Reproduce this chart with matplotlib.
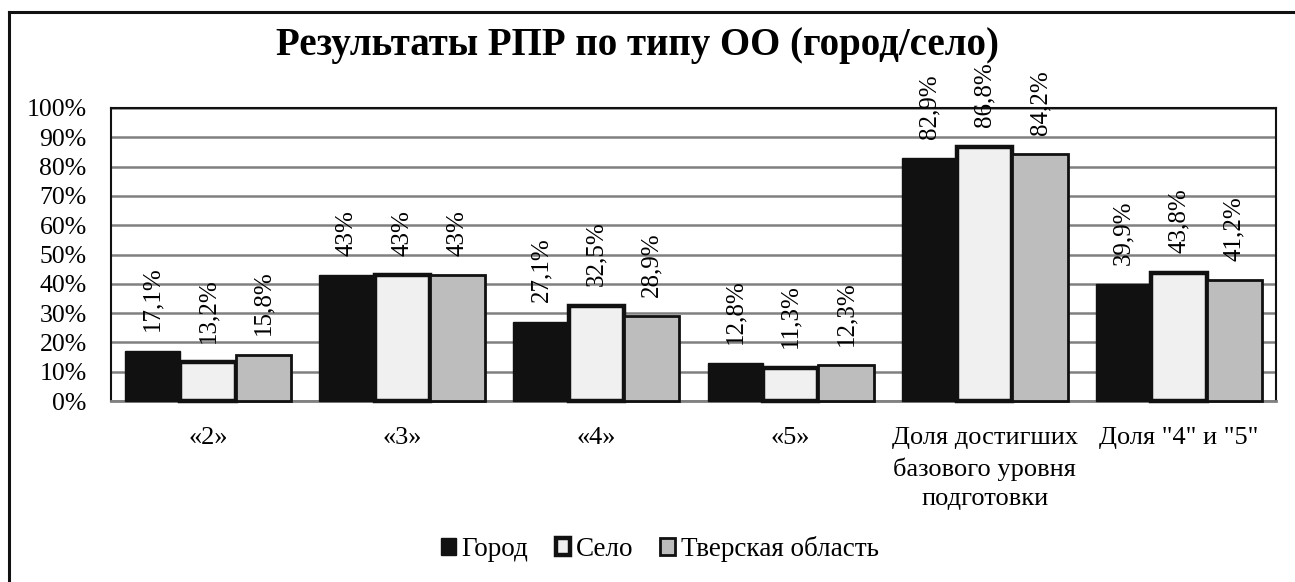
import matplotlib
matplotlib.use("Agg")
import matplotlib.pyplot as plt
from matplotlib.lines import Line2D
import numpy as np

plt.rcParams['font.family'] = ['Liberation Serif', 'DejaVu Serif']

categories = ['«2»', '«3»', '«4»', '«5»', 'Доля достигших\nбазового уровня\nподготовки', 'Доля "4" и "5"']
series_names = ['Город', 'Село', 'Тверская область']
gorod = [17.1, 43, 27.1, 12.8, 82.9, 39.9]
selo = [13.2, 43, 32.5, 11.3, 86.8, 43.8]
tver = [15.8, 43, 28.9, 12.3, 84.2, 41.2]
labels_gorod = ['17,1%', '43%', '27,1%', '12,8%', '82,9%', '39,9%']
labels_selo = ['13,2%', '43%', '32,5%', '11,3%', '86,8%', '43,8%']
labels_tver = ['15,8%', '43%', '28,9%', '12,3%', '84,2%', '41,2%']
yticks = [0, 10, 20, 30, 40, 50, 60, 70, 80, 90, 100]

W, H = 1295, 582
fig = plt.figure(figsize=(W/100, H/100), dpi=100)
ax = fig.add_axes([111/W, 1-401/H, (1276-111)/W, (401-108)/H])

x = np.arange(len(categories))
bw = 0.285
styles = [
    dict(color='#111111', edgecolor='#111111', linewidth=1.0),
    dict(color='#f0f0f0', edgecolor='#111111', linewidth=3.2),
    dict(color='#bdbdbd', edgecolor='#111111', linewidth=2.0),
]
data = [gorod, selo, tver]
labs = [labels_gorod, labels_selo, labels_tver]
handles = []
for i, (vals, st, lb) in enumerate(zip(data, styles, labs)):
    pos = x + (i-1)*bw
    b = ax.bar(pos, vals, bw, label=series_names[i], zorder=3, **st)
    for r in b:
        r.set_clip_on(False)
    handles.append(b)
    for p, v, t in zip(pos, vals, lb):
        ax.annotate(t, (p, v), xytext=(0, 14), textcoords='offset points',
                    rotation=90, ha='center', va='bottom', fontsize=18,
                    annotation_clip=False)

ax.set_xlim(-0.5, len(categories)-0.5)
ax.set_ylim(0, 100)
ax.set_yticks(yticks)
ax.set_yticklabels([f'{t}%' for t in yticks], fontsize=18.5)
ax.set_xticks(x)
ax.set_xticklabels(categories, fontsize=19, linespacing=1.42)
ax.tick_params(axis='y', length=0, pad=17.5)
ax.tick_params(axis='x', length=0, pad=19)
ax.yaxis.grid(True, color='#808080', linewidth=1.8, zorder=0)
ax.set_axisbelow(True)
for s in ax.spines.values():
    s.set_color('#111111')
    s.set_linewidth(1.5)
ax.spines['bottom'].set_color('#808080')
ax.spines['bottom'].set_linewidth(2)

fig.text(637/W, 1-45/H, 'Результаты РПР по типу ОО (город/село)', ha='center', va='center',
         fontsize=28, fontweight='bold')

leg = fig.legend(handles=handles, labels=series_names, loc='center', bbox_to_anchor=(660/W, 1-549/H),
                 ncol=3, frameon=False, fontsize=19.5, handlelength=0.55, handleheight=0.55,
                 handletextpad=0.2, columnspacing=1.0)

# outer frame (left and top edges visible)
fig.add_artist(Line2D([9/W, 9/W], [0, 1-12/H], transform=fig.transFigure, color='#111111', linewidth=2.2))
fig.add_artist(Line2D([9/W, 1], [1-12/H, 1-12/H], transform=fig.transFigure, color='#111111', linewidth=2.2))

fig.savefig('out.png', dpi=100)
